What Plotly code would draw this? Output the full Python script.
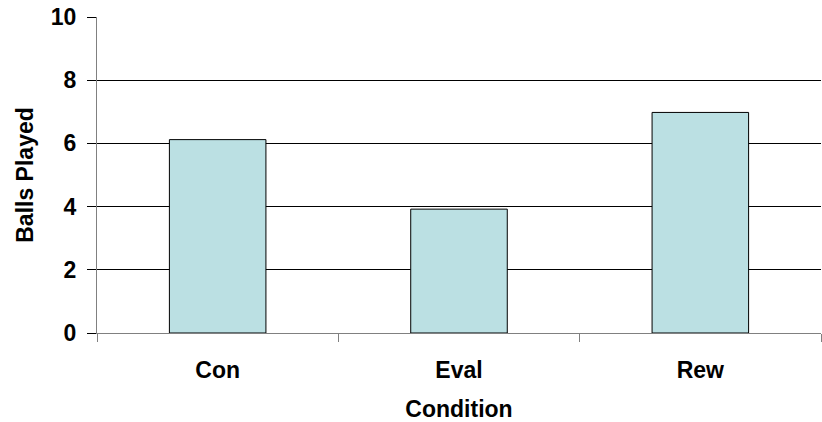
import plotly.graph_objects as go

# Mean balls played per experimental condition
conditions = ["Con", "Eval", "Rew"]
balls_played = [6.12, 3.92, 6.98]
y_ticks = [0, 2, 4, 6, 8, 10]

FONT = "Liberation Sans, Arial, sans-serif"
FONT_SIZE = 23
BAR_FILL = "#BBE0E3"
AXIS_GRAY = "#808080"

fig = go.Figure(
    go.Bar(
        x=conditions,
        y=balls_played,
        marker=dict(color=BAR_FILL, line=dict(color="#000000", width=1)),
        width=0.4,
    )
)

fig.update_layout(
    width=822,
    height=422,
    margin=dict(l=97, r=1, t=17, b=89),
    paper_bgcolor="white",
    plot_bgcolor="white",
    showlegend=False,
    font=dict(family=FONT, size=FONT_SIZE, color="#000000", weight="bold"),
)

fig.update_xaxes(
    type="category",
    showline=True,
    linecolor=AXIS_GRAY,
    linewidth=1,
    ticks="outside",
    tickson="boundaries",
    ticklen=8,
    tickcolor=AXIS_GRAY,
    tickwidth=1,
    showgrid=False,
    ticklabelstandoff=16,
    tickfont=dict(family=FONT, size=FONT_SIZE, weight="bold"),
    title=dict(text="Condition", font=dict(family=FONT, size=FONT_SIZE, weight="bold"), standoff=19),
    automargin=False,
)

fig.update_yaxes(
    range=[0, 10],
    tickvals=y_ticks,
    showline=True,
    linecolor=AXIS_GRAY,
    linewidth=1,
    ticks="outside",
    ticklen=9,
    tickcolor="#000000",
    tickwidth=1,
    showgrid=True,
    gridcolor="#000000",
    gridwidth=1,
    zeroline=False,
    ticklabelstandoff=6,
    tickfont=dict(family=FONT, size=FONT_SIZE, weight="bold"),
    title=dict(text="Balls Played", font=dict(family=FONT, size=FONT_SIZE, weight="bold"), standoff=10),
    automargin=False,
)

fig.write_html("out.html")
